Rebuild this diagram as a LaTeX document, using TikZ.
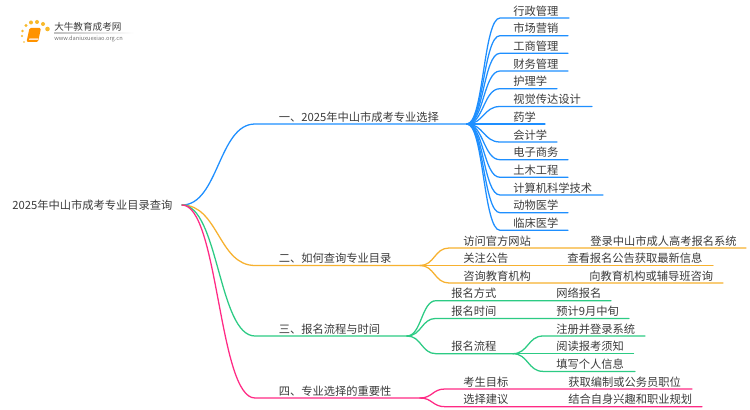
\documentclass[tikz,border=0pt]{standalone}
\usepackage{fontspec}
\setmainfont{Noto Sans CJK SC}
\definecolor{cb}{HTML}{1E8FFF}
\definecolor{co}{HTML}{F7B12F}
\definecolor{cg}{HTML}{2CCB84}
\definecolor{cp}{HTML}{FF2A85}
\definecolor{ctxt}{HTML}{3C3C3C}
\tikzset{
  lbl/.style={anchor=west,inner sep=0pt,text=ctxt,font=\fontsize{8.45pt}{10pt}\selectfont},
  conn/.style={line width=0.95pt,line cap=round},
}
% #1 name, #2 parent junction, #3 colour, #4 curve end x, #5 y of line, #6 line end x, #7 text x, #8 text
\newcommand{\twig}[8]{%
  \node[lbl] (#1) at (#7,#5-7.2) {#8};
  \coordinate (#1s) at (#4,#5);
  \coordinate (#1e) at (#6,#5);
  \draw[conn,#3] (#2) .. controls ($(#2)!0.5!(#4,#5|-#2)$) and ($(#2|-#1s)!0.5!(#1s)$) .. (#1s) -- (#1e);
}
\usetikzlibrary{calc}
\begin{document}
\begin{tikzpicture}[x=0.75pt,y=-0.75pt]
\useasboundingbox (0,0) rectangle (750,410);
\fill[white] (0,0) rectangle (750,410);
% logo
\foreach \px/\py/\pr in {22/36/1.1,22.5/31/1.3,26/25.5/1.7,31/22.5/2,37/22/2,43/24/2,47.5/29/2.3,24/42/0.9}{
  \fill[co!90!yellow] (\px,\py) circle[radius=\pr];
}
\fill[orange!85!yellow,rounded corners=1pt] (29.5,28) -- (41,28) -- (38,42) -- (26.5,42) -- cycle;
\fill[white!80!orange] (29.5,38.5) -- (38.4,38.5) -- (38,40) -- (29,40) -- cycle;
\node[inner sep=0pt,anchor=west,text=ctxt,font=\fontsize{7.2pt}{9pt}\selectfont] (logot) at (54,27) {大牛教育成考网};
\node[inner sep=0pt,anchor=west,text=black!55,font=\fontsize{4.25pt}{6pt}\selectfont] (logou) at (54,39) {www.daniuxuexiao.org.cn};
\shade[left color=black!25,right color=white] (54,33) rectangle (134,33.7);
% root
\node[lbl] (root) at (12,205) {2025年中山市成考专业目录查询};
\coordinate (rj) at (182,205);
% branches
\twig{b1}{rj}{cb}{255}{124}{467}{278.5}{一、2025年中山市成考专业选择}
\twig{b2}{rj}{co}{255}{265.5}{420}{278.5}{二、如何查询专业目录}
\twig{b3}{rj}{cg}{255}{336}{407}{278.5}{三、报名流程与时间}
\twig{b4}{rj}{cp}{255}{398}{420}{278.5}{四、专业选择的重要性}
% branch 1 leaves
\twig{a1}{b1e}{cb}{500}{18}{569}{513}{行政管理}
\twig{a2}{b1e}{cb}{500}{35.7}{568}{513}{市场营销}
\twig{a3}{b1e}{cb}{500}{53.3}{568}{513}{工商管理}
\twig{a4}{b1e}{cb}{500}{71}{568}{513}{财务管理}
\twig{a5}{b1e}{cb}{500}{88.7}{557}{513}{护理学}
\twig{a6}{b1e}{cb}{500}{106.5}{592}{513}{视觉传达设计}
\twig{a7}{b1e}{cb}{500}{124}{545}{513}{药学}
\twig{a8}{b1e}{cb}{500}{142}{557}{513}{会计学}
\twig{a9}{b1e}{cb}{500}{159.7}{568}{513}{电子商务}
\twig{a10}{b1e}{cb}{500}{177.3}{568}{513}{土木工程}
\twig{a11}{b1e}{cb}{500}{195}{603}{513}{计算机科学技术}
\twig{a12}{b1e}{cb}{500}{212.7}{568}{513}{动物医学}
\twig{a13}{b1e}{cb}{500}{230.3}{568}{513}{临床医学}
% branch 2
\twig{c1}{b2e}{co}{449}{248}{746}{463}{访问官方网站}
\twig{c2}{b2e}{co}{449}{265.5}{713}{463}{关注公告}
\twig{c3}{b2e}{co}{449}{283}{723}{463}{咨询教育机构}
\node[lbl] (c1t) at (590,240.8) {登录中山市成人高考报名系统};
\node[lbl] (c2t) at (567,258.3) {查看报名公告获取最新信息};
\node[lbl] (c3t) at (589,275.8) {向教育机构或辅导班咨询};
% branch 3
\twig{d1}{b3e}{cg}{436}{300.7}{611}{451}{报名方式}
\twig{d2}{b3e}{cg}{436}{318.4}{629}{451}{报名时间}
\twig{d3}{b3e}{cg}{436}{353.7}{513}{451}{报名流程}
\node[lbl] (d1t) at (556,293.5) {网络报名};
\node[lbl] (d2t) at (556,311.2) {预计9月中旬};
\twig{e1}{d3e}{cg}{543}{336}{645}{556}{注册并登录系统}
\twig{e2}{d3e}{cg}{543}{353.7}{633.5}{556}{阅读报考须知}
\twig{e3}{d3e}{cg}{543}{371.4}{635}{556}{填写个人信息}
% branch 4
\twig{f1}{b4e}{cp}{445}{389}{692}{463}{考生目标}
\twig{f2}{b4e}{cp}{445}{406.7}{702}{463}{选择建议}
\node[lbl] (f1t) at (568,381.8) {获取编制或公务员职位};
\node[lbl] (f2t) at (568,399.5) {结合自身兴趣和职业规划};
\end{tikzpicture}
\end{document}
